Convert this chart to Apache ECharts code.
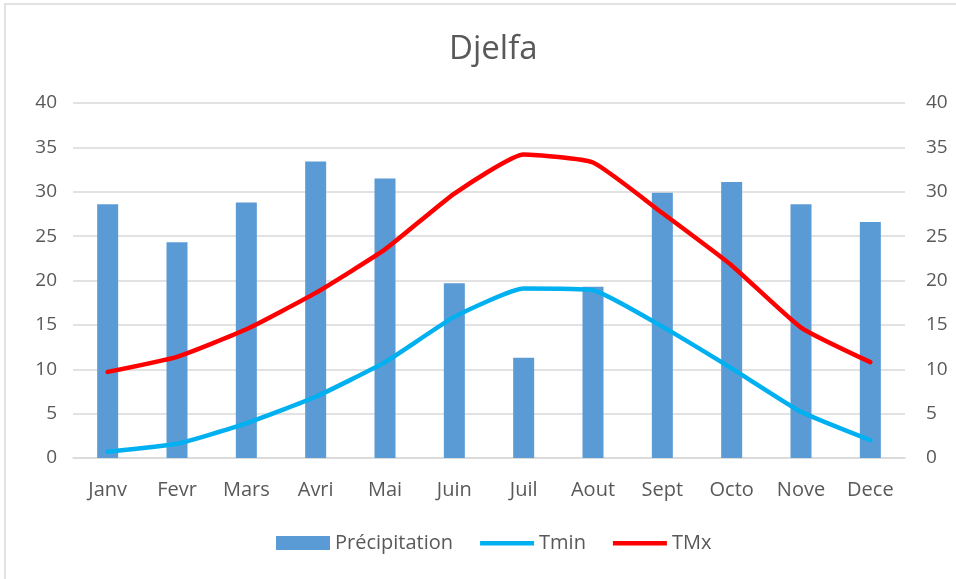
<!DOCTYPE html>
<html>
<head>
<meta charset="utf-8">
<script src="https://cdn.jsdelivr.net/npm/echarts@6/dist/echarts.min.js"></script>
<style>
  html, body { margin: 0; padding: 0; background: #fff; }
  #chart { width: 956px; height: 579px; }
</style>
</head>
<body>
<div id="chart"></div>
<script>
// Monthly climate for Djelfa
const months = ['Janv', 'Fevr', 'Mars', 'Avri', 'Mai', 'Juin', 'Juil', 'Aout', 'Sept', 'Octo', 'Nove', 'Dece'];
const precipitation = [28.6, 24.3, 28.8, 33.4, 31.5, 19.7, 11.3, 19.3, 29.9, 31.1, 28.6, 26.6];
const tmin = [0.7, 1.6, 3.9, 6.9, 10.8, 15.9, 19.1, 18.9, 14.8, 10.1, 5.2, 2.0];
const tmax = [9.7, 11.4, 14.5, 18.6, 23.5, 29.8, 34.2, 33.3, 27.6, 21.7, 14.7, 10.8];

const FONT = '"Open Sans", "Liberation Sans", sans-serif';
const TXT = '#595959';
// thin horizontal stroke centred in the 14px-high legend box
const LINE_ICON = 'path://M0,0 M0,5 L56,5 L56,9.5 L0,9.5 Z M56,14';

const chart = echarts.init(document.getElementById('chart'));

const valueAxis = (pos) => ({
  type: 'value',
  position: pos,
  min: 0,
  max: 40,
  interval: 5,
  axisLine: { show: false },
  axisTick: { show: false },
  splitLine: { show: pos === 'left', lineStyle: { color: '#d9d9d9', width: 1.5 } },
  axisLabel: { color: TXT, fontFamily: FONT, fontSize: 19, margin: pos === 'left' ? 16 : 21 }
});

chart.setOption({
  animation: false,
  backgroundColor: '#fff',
  graphic: [{
    type: 'rect',
    shape: { x: 5, y: 4, width: 960, height: 600 },
    style: { fill: 'none', stroke: '#d9d9d9', lineWidth: 1.5 },
    z: -1
  }],
  title: {
    text: 'Djelfa',
    left: 444,
    top: 28,
    textStyle: { color: TXT, fontFamily: FONT, fontSize: 33, fontWeight: 'normal' }
  },
  legend: {
    bottom: 21,
    left: 271,
    itemGap: 27,
    itemWidth: 54,
    itemHeight: 14,
    textStyle: { color: TXT, fontFamily: FONT, fontSize: 20 },
    data: [
      { name: 'Précipitation', icon: 'rect' },
      { name: 'Tmin', icon: LINE_ICON },
      { name: 'TMx', icon: LINE_ICON }
    ]
  },
  grid: { left: 73, right: 51, top: 103, bottom: 121 },
  xAxis: {
    type: 'category',
    data: months,
    axisLine: { lineStyle: { color: '#d9d9d9', width: 1.5 } },
    axisTick: { show: false },
    axisLabel: { color: TXT, fontFamily: FONT, fontSize: 20, margin: 22 }
  },
  yAxis: [valueAxis('left'), valueAxis('right')],
  series: [
    {
      name: 'Précipitation',
      type: 'bar',
      data: precipitation,
      barWidth: 21,
      itemStyle: { color: '#5b9bd5' }
    },
    {
      name: 'Tmin',
      type: 'line',
      yAxisIndex: 1,
      data: tmin,
      smooth: 0.15,
      symbol: 'none',
      lineStyle: { color: '#00b0f0', width: 4.5, cap: 'round' },
      itemStyle: { color: '#00b0f0' }
    },
    {
      name: 'TMx',
      type: 'line',
      yAxisIndex: 1,
      data: tmax,
      smooth: 0.15,
      symbol: 'none',
      lineStyle: { color: '#ff0000', width: 4.5, cap: 'round' },
      itemStyle: { color: '#ff0000' }
    }
  ]
});
</script>
</body>
</html>
